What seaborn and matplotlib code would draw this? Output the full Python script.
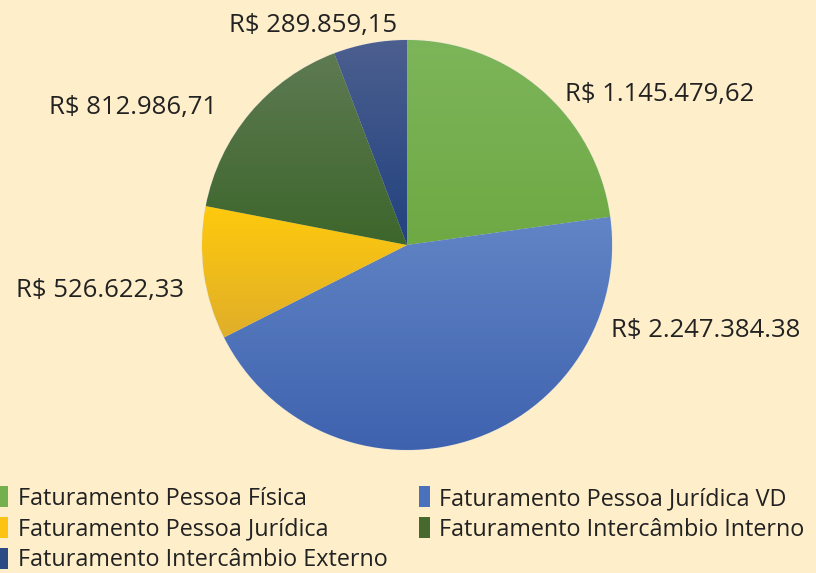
import matplotlib
matplotlib.use("Agg")
import numpy as np
import matplotlib.pyplot as plt
from matplotlib.patches import Patch
from matplotlib.colors import LinearSegmentedColormap
import seaborn as sns

categories = ["Faturamento Pessoa Física", "Faturamento Pessoa Jurídica VD",
              "Faturamento Pessoa Jurídica", "Faturamento Intercâmbio Interno",
              "Faturamento Intercâmbio Externo"]
values = [1145479.62, 2247384.38, 526622.33, 812986.71, 289859.15]
value_labels = ["R$ 1.145.479,62", "R$ 2.247.384.38", "R$ 526.622,33",
                "R$ 812.986,71", "R$ 289.859,15"]
colors = ["#74B04E", "#4A72BC", "#FCC313", "#46692F", "#2C4A84"]
top_colors = ["#7DB55A", "#6285C6", "#FFCA0C", "#5E7A52", "#4C5F8F"]
bottom_colors = ["#6EA944", "#3E62AE", "#E0AE2A", "#3D662B", "#22427F"]

sns.set_theme(style="white")
plt.rcParams["font.family"] = ["Open Sans", "DejaVu Sans"]
bg = "#FEEFCA"

fig = plt.figure(figsize=(8.16, 5.73), dpi=100, facecolor=bg)
ax = fig.add_axes([0.2476, 0.2147, 0.5025, 0.7155])
ax.set_facecolor(bg)
wedges, _ = ax.pie(values, colors=colors, startangle=90, counterclock=False,
                   radius=1.0, wedgeprops=dict(edgecolor="#E8E4D8", linewidth=0.8))

# per-wedge vertical gradient shading
for w, ct, cb in zip(wedges, top_colors, bottom_colors):
    angs = np.radians(np.linspace(w.theta1, w.theta2, 200))
    ys = np.concatenate([[w.center[1]], w.center[1] + w.r * np.sin(angs)])
    xs = np.concatenate([[w.center[0]], w.center[0] + w.r * np.cos(angs)])
    cmap = LinearSegmentedColormap.from_list("g", [cb, ct])
    grad = np.linspace(0, 1, 256).reshape(-1, 1)
    im = ax.imshow(grad, cmap=cmap, origin="lower", aspect="auto",
                   extent=[xs.min(), xs.max(), ys.min(), ys.max()], zorder=w.get_zorder() + 0.1)
    im.set_clip_path(w)

ax.set_xlim(-1, 1)
ax.set_ylim(-1, 1)
ax.set_aspect("auto")
ax.axis("off")

label_pos = [(1.234, 0.732), (1.459, -0.415), (-1.498, -0.22), (-1.337, 0.673), (-0.459, 1.073)]
for (x, y), t in zip(label_pos, value_labels):
    ax.text(x, y, t, ha="center", va="center", fontsize=18.5, color="#222222", clip_on=False)

order = [0, 2, 4, 1, 3]
handles = [Patch(facecolor=colors[i], edgecolor="none") for i in order]
labels = [categories[i] for i in order]
leg = fig.legend(handles, labels, ncol=2, loc="upper left", bbox_to_anchor=(-0.003, 0.151),
                 frameon=False, handlelength=0.45, handleheight=1.0,
                 handletextpad=0.42, columnspacing=1.35, labelspacing=0.27,
                 borderaxespad=0, borderpad=0,
                 prop={"family": ["Open Sans", "DejaVu Sans"], "size": 16.8})
for t in leg.get_texts():
    t.set_color("#222222")

fig.savefig("out.png", dpi=100, facecolor=bg)
